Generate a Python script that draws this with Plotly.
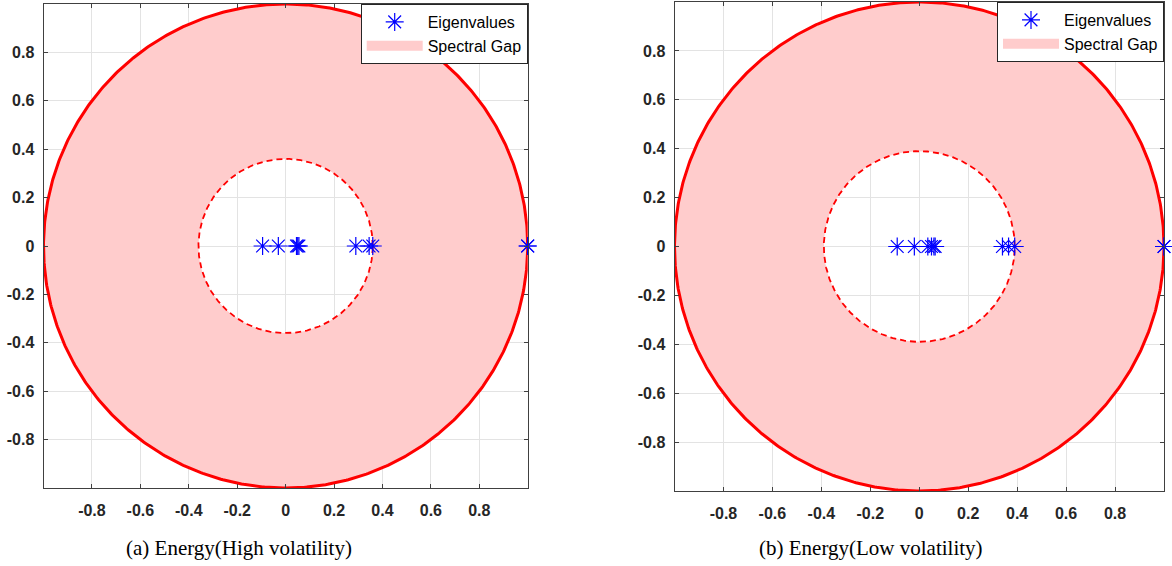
import numpy as np
import plotly.graph_objects as go

# ---- data ----
eig_high = [-0.095, -0.03, 0.045, 0.05, 0.055, 0.29, 0.345, 0.36, 1.0, 1.0]
eig_low = [-0.09, -0.02, 0.035, 0.05, 0.06, 0.065, 0.34, 0.365, 0.39, 1.0, 1.0]
gap_radius_high = 0.36
gap_radius_low = 0.39
outer_radius = 1.0
tick_vals = [-0.8, -0.6, -0.4, -0.2, 0, 0.2, 0.4, 0.6, 0.8]
tick_text = ["-0.8", "-0.6", "-0.4", "-0.2", "0", "0.2", "0.4", "0.6", "0.8"]
captions = ["(a) Energy(High volatility)", "(b) Energy(Low volatility)"]

W, H = 1172, 566
theta = np.linspace(0, 2 * np.pi, 721)
PINK = "#FFCCCC"

fig = go.Figure()

panels = [
    dict(eig=eig_high, r=gap_radius_high, xa="x", ya="y", legend="legend"),
    dict(eig=eig_low, r=gap_radius_low, xa="x2", ya="y2", legend="legend2"),
]

for p in panels:
    r = p["r"]
    ox = list(outer_radius * np.cos(theta)) + list(r * np.cos(theta[::-1]))
    oy = list(outer_radius * np.sin(theta)) + list(r * np.sin(theta[::-1]))
    fig.add_trace(go.Scatter(
        x=ox, y=oy, mode="lines", fill="toself", fillcolor=PINK,
        line=dict(width=0, color="rgba(0,0,0,0)"), showlegend=False,
        xaxis=p["xa"], yaxis=p["ya"], hoverinfo="skip"))
    # legend entry for the shaded annulus
    fig.add_trace(go.Scatter(
        x=[None], y=[None], mode="lines", name="Spectral Gap",
        line=dict(width=20, color=PINK),
        xaxis=p["xa"], yaxis=p["ya"], legend=p["legend"], legendrank=2))
    fig.add_trace(go.Scatter(
        x=outer_radius * np.cos(theta), y=outer_radius * np.sin(theta),
        mode="lines", line=dict(color="#FF0000", width=3), showlegend=False,
        xaxis=p["xa"], yaxis=p["ya"], hoverinfo="skip"))
    fig.add_trace(go.Scatter(
        x=r * np.cos(theta), y=r * np.sin(theta),
        mode="lines", line=dict(color="#FF0000", width=1.8, dash="6px,4px"),
        showlegend=False, xaxis=p["xa"], yaxis=p["ya"], hoverinfo="skip"))
    fig.add_trace(go.Scatter(
        x=p["eig"], y=[0] * len(p["eig"]), mode="markers", name="Eigenvalues",
        marker=dict(symbol="asterisk-open", size=15, color="#0000FF",
                    line=dict(color="#0000FF", width=1.2)),
        cliponaxis=False,
        xaxis=p["xa"], yaxis=p["ya"], legend=p["legend"], legendrank=1))

axis_common = dict(
    range=[-1, 1], tickvals=tick_vals, ticktext=tick_text, automargin=False,
    showgrid=True, gridcolor="#E3E3E3", gridwidth=1,
    zeroline=False, showline=True, linecolor="#404040", linewidth=1,
    mirror="ticks", ticks="inside", ticklen=4, tickcolor="#404040",
    tickfont=dict(family="Liberation Sans", size=16, color="#262626", weight="bold"),
)

# pixel boxes -> paper domains
def xd(a, b):
    return [a / W, b / W]

def yd(top, bottom):
    return [(H - bottom) / H, (H - top) / H]

legend_common = dict(xanchor="right", yanchor="top",
                     bgcolor="white", bordercolor="#262626", borderwidth=1,
                     font=dict(family="Liberation Sans", size=16, color="black"),
                     itemwidth=56, tracegroupgap=0)

fig.update_layout(
    width=W, height=H, margin=dict(l=0, r=0, t=0, b=0, autoexpand=False),
    paper_bgcolor="white", plot_bgcolor="white",
    xaxis=dict(domain=xd(43.5, 527.7), anchor="y", ticklabelstandoff=8, **axis_common),
    yaxis=dict(domain=yd(4, 488), anchor="x", ticklabelstandoff=5, **axis_common),
    xaxis2=dict(domain=xd(674.5, 1164), anchor="y2", ticklabelstandoff=8, **axis_common),
    yaxis2=dict(domain=yd(2, 491), anchor="x2", ticklabelstandoff=5, **axis_common),
    legend=dict(x=527.7 / W, y=(H - 4) / H, **legend_common),
    legend2=dict(x=1164 / W, y=(H - 2) / H, **legend_common),
    showlegend=True,
)

for cx, txt in zip([239, 871], captions):
    fig.add_annotation(x=cx / W, y=(H - 548) / H, xref="paper", yref="paper",
                       text=txt, showarrow=False, xanchor="center", yanchor="middle",
                       font=dict(family="Liberation Serif", size=21, color="black"))

fig.write_html("out.html",
               config={"displayModeBar": False},
               post_script="document.body.style.margin='0';document.body.style.padding='0';")
